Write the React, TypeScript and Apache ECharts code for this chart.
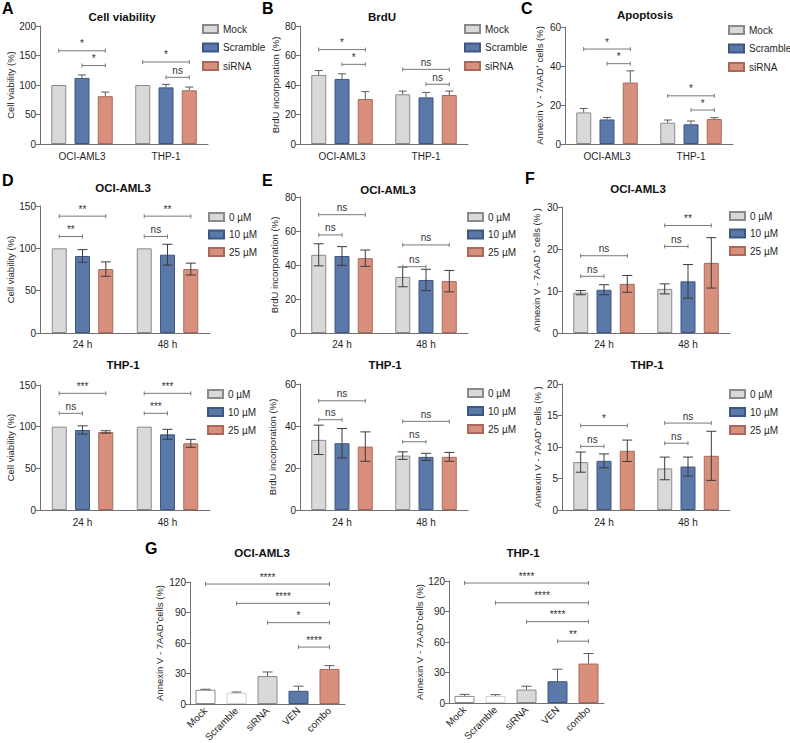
import React, { useEffect, useRef } from 'react';
import * as echarts from 'echarts';

const FONT = '"Liberation Sans", Arial, Helvetica, sans-serif';

// ---------- categories ----------
const cellLines = ['OCI-AML3', 'THP-1'];
const timePoints = ['24 h', '48 h'];
const siGroups = ['Mock', 'Scramble', 'siRNA'];
const doseGroups = ['0 µM', '10 µM', '25 µM'];
const comboCategories = ['Mock', 'Scramble', 'siRNA', 'VEN', 'combo'];

// ---------- A: cell viability (per cell line) ----------
const viabMock = [100, 100];
const viabMockSd = [0, 0];
const viabScramble = [112, 96];
const viabScrambleSd = [5, 5];
const viabSiRNA = [81, 91];
const viabSiRNASd = [7, 5.5];
const bracketsA = [[0, 0, 2, 158], [0, 1, 2, 133], [1, 0, 2, 139], [1, 1, 2, 113]];
const labelsA = ['*', '*', '*', 'ns'];

// ---------- B: BrdU ----------
const brduMock = [46.8, 33.7];
const brduMockSd = [3, 2.2];
const brduScramble = [44.1, 31.6];
const brduScrambleSd = [3.5, 3.4];
const brduSiRNA = [30.5, 33.2];
const brduSiRNASd = [5, 2.7];
const bracketsB = [[0, 0, 2, 64], [0, 1, 2, 54], [1, 0, 2, 50.6], [1, 1, 2, 40.5]];
const labelsB = ['*', '*', 'ns', 'ns'];

// ---------- C: apoptosis ----------
const apoMock = [16.2, 10.9];
const apoMockSd = [2, 1.4];
const apoScramble = [12.6, 10.1];
const apoScrambleSd = [1, 1.7];
const apoSiRNA = [31.5, 12.8];
const apoSiRNASd = [6, 0.7];
const bracketsC = [[0, 0, 2, 48.7], [0, 1, 2, 41.2], [1, 0, 2, 24.7], [1, 1, 2, 17.4]];
const labelsC = ['*', '*', '*', '*'];

// ---------- D: viability, dose (OCI-AML3 / THP-1) ----------
const dOci0 = [100, 100];
const dOci0Sd = [0, 0];
const dOci10 = [91, 92.5];
const dOci10Sd = [7.5, 12.3];
const dOci25 = [75.5, 75.5];
const dOci25Sd = [8.5, 7];
const bracketsDOci = [[0, 0, 2, 138], [0, 0, 1, 114], [1, 0, 2, 138], [1, 0, 1, 114]];
const labelsDOci = ['**', '**', '**', 'ns'];

const dThp0 = [100, 100];
const dThp0Sd = [0, 0];
const dThp10 = [96, 90.8];
const dThp10Sd = [5, 6];
const dThp25 = [93.6, 80];
const dThp25Sd = [1.5, 4.8];
const bracketsDThp = [[0, 0, 2, 140], [0, 0, 1, 116], [1, 0, 2, 140], [1, 0, 1, 116]];
const labelsDThp = ['***', 'ns', '***', '***'];

// ---------- E: BrdU, dose ----------
const eOci0 = [46, 33];
const eOci0Sd = [6.5, 5.8];
const eOci10 = [45.3, 31.2];
const eOci10Sd = [5.5, 6.3];
const eOci25 = [44, 30.5];
const eOci25Sd = [4.8, 6.3];
const bracketsEOci = [[0, 0, 2, 69.6], [0, 0, 1, 57.7], [1, 0, 2, 51.8], [1, 0, 1, 39]];
const labelsEOci = ['ns', 'ns', 'ns', 'ns'];

const eThp0 = [33.4, 25.9];
const eThp0Sd = [7, 1.8];
const eThp10 = [31.8, 25.3];
const eThp10Sd = [7, 1.7];
const eThp25 = [30.2, 25.3];
const eThp25Sd = [7, 2.1];
const bracketsEThp = [[0, 0, 2, 52], [0, 0, 1, 43], [1, 0, 2, 42.2], [1, 0, 1, 32.5]];
const labelsEThp = ['ns', 'ns', 'ns', 'ns'];

// ---------- F: apoptosis, dose ----------
const fOci0 = [9.6, 10.5];
const fOci0Sd = [0.5, 1.2];
const fOci10 = [10.3, 12.3];
const fOci10Sd = [1.2, 4];
const fOci25 = [11.7, 16.7];
const fOci25Sd = [2, 6];
const bracketsFOci = [[0, 0, 2, 18.4], [0, 0, 1, 13.5], [1, 0, 2, 25.6], [1, 0, 1, 20.6]];
const labelsFOci = ['ns', 'ns', '**', 'ns'];

const fThp0 = [7.6, 6.6];
const fThp0Sd = [1.6, 1.8];
const fThp10 = [7.8, 6.9];
const fThp10Sd = [1.1, 1.5];
const fThp25 = [9.4, 8.6];
const fThp25Sd = [1.7, 3.9];
const bracketsFThp = [[0, 0, 2, 13.4], [0, 0, 1, 10.1], [1, 0, 2, 13.8], [1, 0, 1, 10.6]];
const labelsFThp = ['*', 'ns', 'ns', 'ns'];

// ---------- G: combination ----------
const gOciMeans = [14, 11, 27.5, 13, 34.5];
const gOciSd = [0.5, 0.8, 4, 4.5, 3.2];
const bracketsGOci = [[0, 4, 118], [1, 4, 99], [2, 4, 80], [3, 4, 56]];
const labelsGOci = ['****', '****', '*', '****'];

const gThpMeans = [7, 7, 13.2, 21.4, 38.8];
const gThpSd = [1.5, 1.2, 3.3, 11.8, 9.9];
const bracketsGThp = [[0, 4, 118], [1, 4, 98.6], [2, 4, 80], [3, 4, 60.8]];
const labelsGThp = ['****', '****', '****', '**'];

// ---------- styles ----------
const FILL = ['#d9d9d9', '#5a78a8', '#d8907c'];
const EDGE = ['#8a8a8a', '#3d5783', '#a8685a'];
const COMBO_FILL = ['#ffffff', '#ffffff', '#d9d9d9', '#5a78a8', '#d8907c'];
const COMBO_EDGE = ['#8a8a8a', '#d0d0d0', '#8a8a8a', '#3d5783', '#a8685a'];
const AXIS = '#707070';
const TXT = '#1f1f1f';
const SIG_TXT = '#333333';
const BAR_W = 15;
const BAR_SPACING = 23.3;
const NO_BOUNDS = { left: -300, right: -300, top: -300, bottom: -300 };

type Spec = {
  left: number; top: number; width: number; height: number;
  cats: string[]; groups: string[];
  means: number[][]; sds: number[][];
  yMax: number; yInterval: number; yName: string; nameGap: number;
  brackets: number[][]; labels: string[];
  twoSided: boolean;
  legendLeft: number; legendTop: number; legendGap: number;
  labelMargin: number;
};

function offsetOf(g: number, n: number, spacing: number) {
  return (g - (n - 1) / 2) * spacing;
}

function bracketRenderer(labels: string[], n: number, spacing: number) {
  return (params: any, api: any) => {
    const y = api.value(4);
    const p1 = api.coord([api.value(0), y]);
    const p2 = api.coord([api.value(2), y]);
    const x1 = p1[0] + offsetOf(api.value(1), n, spacing);
    const x2 = p2[0] + offsetOf(api.value(3), n, spacing);
    const yy = p1[1];
    const st = { stroke: '#7a7a7a', lineWidth: 1, fill: 'none' };
    return {
      type: 'group',
      children: [
        { type: 'line', shape: { x1, y1: yy, x2, y2: yy }, style: st },
        { type: 'line', shape: { x1, y1: yy - 2, x2: x1, y2: yy + 2 }, style: st },
        { type: 'line', shape: { x1: x2, y1: yy - 2, x2, y2: yy + 2 }, style: st },
        {
          type: 'text',
          x: (x1 + x2) / 2,
          y: yy - 2,
          style: {
            text: labels[params.dataIndex],
            align: 'center',
            verticalAlign: 'bottom',
            fontSize: 10,
            fontFamily: FONT,
            fill: SIG_TXT,
          },
        },
      ],
    };
  };
}

function errorRenderer(n: number, spacing: number, twoSided: boolean, color: string, cap: number) {
  return (params: any, api: any) => {
    const cat = api.value(0);
    const g = api.value(1);
    const m = api.value(2);
    const s = api.value(3);
    if (!s) return { type: 'group', children: [] };
    const pTop = api.coord([cat, m + s]);
    const pBot = api.coord([cat, twoSided ? m - s : m]);
    const x = pTop[0] + offsetOf(g, n, spacing);
    const st = { stroke: color, lineWidth: 1, fill: 'none' };
    const children: any[] = [
      { type: 'line', shape: { x1: x, y1: pTop[1], x2: x, y2: pBot[1] }, style: st },
      { type: 'line', shape: { x1: x - cap, y1: pTop[1], x2: x + cap, y2: pTop[1] }, style: st },
    ];
    if (twoSided) {
      children.push({ type: 'line', shape: { x1: x - cap, y1: pBot[1], x2: x + cap, y2: pBot[1] }, style: st });
    }
    return { type: 'group', children };
  };
}

function axisPair(idx: number, cats: string[], yMax: number, yInterval: number, yName: string, nameGap: number, labelMargin: number, rotate = 0) {
  const xAxis = {
    type: 'category',
    gridIndex: idx,
    data: cats,
    axisLine: { lineStyle: { color: AXIS, width: 1 } },
    axisTick: { alignWithLabel: true, length: 4, lineStyle: { color: AXIS } },
    axisLabel: { fontSize: 10, color: TXT, margin: labelMargin, fontFamily: FONT, rotate, interval: 0, hideOverlap: false },
  };
  const yAxis = {
    type: 'value',
    gridIndex: idx,
    min: 0,
    max: yMax,
    interval: yInterval,
    axisLine: { show: true, lineStyle: { color: AXIS, width: 1 } },
    axisTick: { show: true, length: 4, lineStyle: { color: AXIS } },
    splitLine: { show: false },
    axisLabel: { fontSize: 10, color: TXT, margin: 4, fontFamily: FONT },
    name: yName,
    nameLocation: 'middle',
    nameRotate: 90,
    nameGap,
    nameTextStyle: { fontSize: 9.5, color: TXT, fontFamily: FONT },
  };
  return { xAxis, yAxis };
}

function buildOption() {
  const grid: any[] = [];
  const xAxis: any[] = [];
  const yAxis: any[] = [];
  const series: any[] = [];
  const legend: any[] = [];

  const specs: Spec[] = [
    {
      left: 40, top: 26, width: 168, height: 118, cats: cellLines, groups: siGroups,
      means: [viabMock, viabScramble, viabSiRNA], sds: [viabMockSd, viabScrambleSd, viabSiRNASd],
      yMax: 200, yInterval: 50, yName: 'Cell viability (%)', nameGap: 25,
      brackets: bracketsA, labels: labelsA, twoSided: false,
      legendLeft: 202, legendTop: 24, legendGap: 8.5, labelMargin: 7,
    },
    {
      left: 300, top: 26, width: 168, height: 118, cats: cellLines, groups: siGroups,
      means: [brduMock, brduScramble, brduSiRNA], sds: [brduMockSd, brduScrambleSd, brduSiRNASd],
      yMax: 80, yInterval: 20, yName: 'BrdU incorporation (%)', nameGap: 20,
      brackets: bracketsB, labels: labelsB, twoSided: false,
      legendLeft: 464, legendTop: 24, legendGap: 8.5, labelMargin: 7,
    },
    {
      left: 565, top: 27, width: 168, height: 117, cats: cellLines, groups: siGroups,
      means: [apoMock, apoScramble, apoSiRNA], sds: [apoMockSd, apoScrambleSd, apoSiRNASd],
      yMax: 60, yInterval: 20, yName: 'Annexin V - 7AAD⁺ cells (%)', nameGap: 21,
      brackets: bracketsC, labels: labelsC, twoSided: false,
      legendLeft: 728, legendTop: 25, legendGap: 8.5, labelMargin: 7,
    },
    {
      left: 40, top: 206, width: 170, height: 127, cats: timePoints, groups: doseGroups,
      means: [dOci0, dOci10, dOci25], sds: [dOci0Sd, dOci10Sd, dOci25Sd],
      yMax: 150, yInterval: 50, yName: 'Cell viability (%)', nameGap: 23,
      brackets: bracketsDOci, labels: labelsDOci, twoSided: true,
      legendLeft: 208, legendTop: 212, legendGap: 7.5, labelMargin: 6,
    },
    {
      left: 300, top: 197, width: 168, height: 136, cats: timePoints, groups: doseGroups,
      means: [eOci0, eOci10, eOci25], sds: [eOci0Sd, eOci10Sd, eOci25Sd],
      yMax: 80, yInterval: 20, yName: 'BrdU incorporation (%)', nameGap: 21,
      brackets: bracketsEOci, labels: labelsEOci, twoSided: true,
      legendLeft: 467, legendTop: 212, legendGap: 7.5, labelMargin: 6,
    },
    {
      left: 562, top: 207, width: 168, height: 126, cats: timePoints, groups: doseGroups,
      means: [fOci0, fOci10, fOci25], sds: [fOci0Sd, fOci10Sd, fOci25Sd],
      yMax: 30, yInterval: 10, yName: 'Annexin V - 7AAD ⁺ cells (% )', nameGap: 21,
      brackets: bracketsFOci, labels: labelsFOci, twoSided: true,
      legendLeft: 729, legendTop: 211, legendGap: 7.5, labelMargin: 6,
    },
    {
      left: 40, top: 385, width: 170, height: 125, cats: timePoints, groups: doseGroups,
      means: [dThp0, dThp10, dThp25], sds: [dThp0Sd, dThp10Sd, dThp25Sd],
      yMax: 150, yInterval: 50, yName: 'Cell viability (%)', nameGap: 25,
      brackets: bracketsDThp, labels: labelsDThp, twoSided: true,
      legendLeft: 207, legendTop: 389, legendGap: 8, labelMargin: 7,
    },
    {
      left: 300, top: 384, width: 168, height: 126, cats: timePoints, groups: doseGroups,
      means: [eThp0, eThp10, eThp25], sds: [eThp0Sd, eThp10Sd, eThp25Sd],
      yMax: 60, yInterval: 20, yName: 'BrdU incorporation (%)', nameGap: 23,
      brackets: bracketsEThp, labels: labelsEThp, twoSided: true,
      legendLeft: 467, legendTop: 388, legendGap: 8, labelMargin: 7,
    },
    {
      left: 562, top: 384, width: 168, height: 126, cats: timePoints, groups: doseGroups,
      means: [fThp0, fThp10, fThp25], sds: [fThp0Sd, fThp10Sd, fThp25Sd],
      yMax: 20, yInterval: 5, yName: 'Annexin V - 7AAD⁺ cells (% )', nameGap: 16,
      brackets: bracketsFThp, labels: labelsFThp, twoSided: true,
      legendLeft: 729, legendTop: 389, legendGap: 8, labelMargin: 7,
    },
  ];

  specs.forEach((sp, idx) => {
    grid.push({
      left: sp.left, top: sp.top, width: sp.width, height: sp.height,
      containLabel: false, outerBoundsMode: 'none', outerBounds: NO_BOUNDS,
    });
    const ax = axisPair(idx, sp.cats, sp.yMax, sp.yInterval, sp.yName, sp.nameGap, sp.labelMargin);
    xAxis.push(ax.xAxis);
    yAxis.push(ax.yAxis);
    const n = sp.groups.length;
    sp.groups.forEach((g, gi) => {
      series.push({
        type: 'bar',
        name: g,
        xAxisIndex: idx,
        yAxisIndex: idx,
        data: sp.means[gi],
        barWidth: BAR_W,
        barGap: '55%',
        itemStyle: { color: FILL[gi], borderColor: EDGE[gi], borderWidth: 1 },
        z: 2,
      });
    });
    const errRows: number[][] = [];
    sp.groups.forEach((_, gi) => {
      sp.cats.forEach((_, ci) => {
        errRows.push([ci, gi, sp.means[gi][ci], sp.sds[gi][ci]]);
      });
    });
    series.push({
      type: 'custom',
      name: 'err' + idx,
      xAxisIndex: idx,
      yAxisIndex: idx,
      data: errRows,
      encode: { x: 0, y: 2 },
      silent: true,
      z: 4,
      itemStyle: { color: '#444' },
      renderItem: errorRenderer(n, BAR_SPACING, sp.twoSided, sp.twoSided ? '#3c3c3c' : '#5a5a5a', sp.twoSided ? 5 : 4),
    });
    series.push({
      type: 'custom',
      name: 'sig' + idx,
      xAxisIndex: idx,
      yAxisIndex: idx,
      data: sp.brackets.map((b) => [b[0], b[1], b[0], b[2], b[3]]),
      encode: { x: 0, y: 4 },
      silent: true,
      z: 5,
      itemStyle: { color: SIG_TXT },
      renderItem: bracketRenderer(sp.labels, n, BAR_SPACING),
    });
    legend.push({
      orient: 'vertical',
      left: sp.legendLeft,
      top: sp.legendTop,
      padding: 0,
      itemWidth: 15,
      itemHeight: 8,
      itemGap: sp.legendGap,
      icon: 'rect',
      selectedMode: false,
      data: sp.groups,
      textStyle: { fontSize: 10, lineHeight: 10, color: TXT, fontFamily: FONT },
    });
  });

  // G panels
  const gPanels = [
    { left: 190, top: 582, means: gOciMeans, sds: gOciSd, brackets: bracketsGOci, labels: labelsGOci, nameGap: 26 },
    { left: 449, top: 581, means: gThpMeans, sds: gThpSd, brackets: bracketsGThp, labels: labelsGThp, nameGap: 24 },
  ];
  gPanels.forEach((gp, k) => {
    const idx = specs.length + k;
    grid.push({
      left: gp.left, top: gp.top, width: 155, height: 122,
      containLabel: false, outerBoundsMode: 'none', outerBounds: NO_BOUNDS,
    });
    const ax = axisPair(idx, comboCategories, 120, 30, 'Annexin V - 7AAD⁺cells (%)', gp.nameGap, 5, 45);
    xAxis.push(ax.xAxis);
    yAxis.push(ax.yAxis);
    series.push({
      type: 'bar',
      name: 'combo' + k,
      xAxisIndex: idx,
      yAxisIndex: idx,
      barWidth: 20,
      data: gp.means.map((v, i) => ({
        value: v,
        itemStyle: { color: COMBO_FILL[i], borderColor: COMBO_EDGE[i], borderWidth: 1 },
      })),
      z: 2,
    });
    series.push({
      type: 'custom',
      name: 'gerr' + k,
      xAxisIndex: idx,
      yAxisIndex: idx,
      data: gp.means.map((m, i) => [i, 0, m, gp.sds[i]]),
      encode: { x: 0, y: 2 },
      silent: true,
      z: 4,
      itemStyle: { color: '#444' },
      renderItem: errorRenderer(1, 0, false, '#5a5a5a', 5),
    });
    series.push({
      type: 'custom',
      name: 'gsig' + k,
      xAxisIndex: idx,
      yAxisIndex: idx,
      data: gp.brackets.map((b) => [b[0], 0, b[1], 0, b[2]]),
      encode: { x: 0, y: 4 },
      silent: true,
      z: 5,
      itemStyle: { color: SIG_TXT },
      renderItem: bracketRenderer(gp.labels, 1, 0),
    });
  });

  const titleStyle = (text: string, x: number, y: number) => ({
    type: 'text',
    x,
    y,
    style: {
      text,
      align: 'center',
      verticalAlign: 'middle',
      fontSize: 11.5,
      fontWeight: 'bold',
      fontFamily: FONT,
      fill: '#111',
    },
  });
  const letter = (text: string, x: number, y: number) => ({
    type: 'text',
    x,
    y,
    style: {
      text,
      align: 'left',
      verticalAlign: 'top',
      fontSize: 16,
      fontWeight: 'bold',
      fontFamily: FONT,
      fill: '#000',
    },
  });

  const graphic = [
    letter('A', 2, 0),
    letter('B', 262, 0),
    letter('C', 521, 0),
    letter('D', 2, 172),
    letter('E', 262, 172),
    letter('F', 525, 170),
    letter('G', 145, 540),
    titleStyle('Cell viability', 122, 17),
    titleStyle('BrdU', 382, 17),
    titleStyle('Apoptosis', 645, 15),
    titleStyle('OCI-AML3', 123, 188),
    titleStyle('OCI-AML3', 388, 190),
    titleStyle('OCI-AML3', 638, 189),
    titleStyle('THP-1', 123, 365),
    titleStyle('THP-1', 385, 365),
    titleStyle('THP-1', 647, 365),
    titleStyle('OCI-AML3', 262, 553),
    titleStyle('THP-1', 523, 553),
  ];

  return {
    animation: false,
    backgroundColor: '#ffffff',
    textStyle: { fontFamily: FONT },
    grid,
    xAxis,
    yAxis,
    series,
    legend,
    graphic,
  };
}

export default function App() {
  const ref = useRef<HTMLDivElement>(null);
  useEffect(() => {
    if (!ref.current) return;
    const chart = echarts.init(ref.current, undefined, { renderer: 'svg' });
    chart.setOption(buildOption() as any);
    return () => {
      chart.dispose();
    };
  }, []);
  return (
    <div
      ref={ref}
      style={{ position: 'absolute', left: 0, top: 0, width: 790, height: 743, background: '#fff' }}
    />
  );
}
